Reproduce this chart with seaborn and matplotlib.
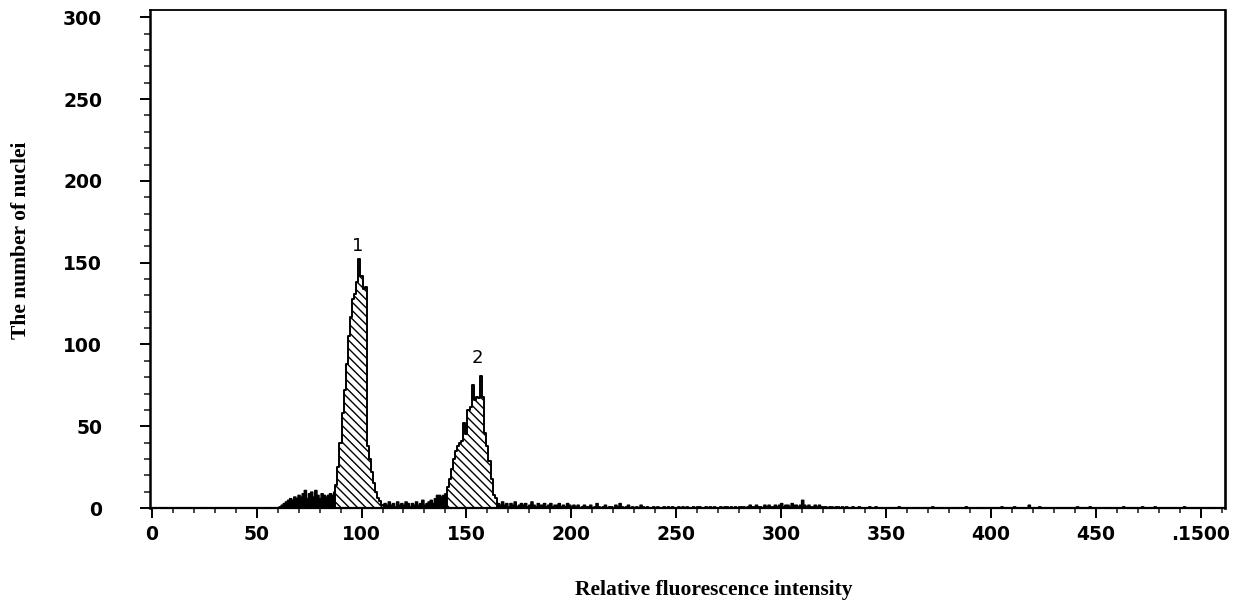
import numpy as np
import pandas as pd
import matplotlib
matplotlib.use("Agg")
import matplotlib.pyplot as plt
import seaborn as sns
from matplotlib.ticker import MultipleLocator

# ---------------- data ----------------
pre_start = 60
pre_counts = [0, 1, 2, 3, 4, 5, 6, 5, 7, 6, 8, 7, 9, 11, 6, 9, 10, 7, 11, 8,
              6, 9, 8, 7, 8, 9, 8, 10]

peak1_start = 88
peak1_counts = [14, 25, 40, 58, 72, 88, 105, 117, 128, 131, 138, 152, 142, 134, 135,
                38, 30, 22, 15, 10, 6, 4, 2]

gap_start = 111
gap_counts = [3, 2, 4, 2, 3, 1, 4, 2, 3, 2, 4, 3, 1, 3, 2, 4, 2, 3, 5, 2,
              3, 4, 5, 3, 6, 8, 8, 7, 8, 9]

peak2_start = 141
peak2_counts = [13, 18, 24, 30, 35, 38, 40, 41, 52, 45, 60, 62, 75, 66, 68, 67, 81, 68,
                46, 38, 29, 18, 8, 6]

tail_start = 165
tail_counts = [3, 2, 4, 2, 3, 1, 3, 2, 4, 1, 2, 3, 2, 3, 1, 2, 4, 2, 1, 3, 2, 2, 3, 1, 2, 3,
               1, 2, 2, 3, 1, 2, 1, 3, 2, 1,
               2, 1, 2, 0, 1, 2, 1, 1, 2, 0, 1, 3, 1, 0, 1, 2, 0, 1, 1, 0, 2, 1, 3, 1,
               0, 1, 2, 0, 1, 0, 1, 0, 2, 1, 0, 1, 0, 0, 1, 0,
               1, 0, 0, 1, 0, 1, 0, 1, 0, 0, 1, 0, 1, 0, 1, 0, 0, 1, 0, 1, 1, 0, 0, 1,
               0, 1, 0, 1, 0, 0, 1, 0, 1, 1, 0, 1, 0, 1, 0, 1,
               1, 1, 0, 1, 2, 1, 1, 2, 1, 1, 0, 2, 1, 2, 1, 1, 2, 1, 2, 3, 1, 2, 2, 1,
               3, 2, 2, 1, 2, 5, 2, 1, 2, 1, 1, 2, 1, 2, 1, 1,
               1, 0, 1, 1, 0, 1, 1, 0, 1, 0, 1, 0, 0, 1, 0, 0, 1, 0, 0, 0, 0, 1, 0, 0,
               1, 0, 0, 0, 0, 0]

far_channels = [356, 372, 388, 405, 411, 418, 423, 441, 447, 463, 472, 478, 492]
far_counts = [1, 1, 1, 1, 1, 2, 1, 1, 1, 1, 1, 1, 1]

x_tick_values = [0, 50, 100, 150, 200, 250, 300, 350, 400, 450, 500]
x_tick_labels = ["0", "50", "100", "150", "200", "250", "300", "350", "400", "450", ".1500"]
y_tick_values = [0, 50, 100, 150, 200, 250, 300]

peak_labels = ["1", "2"]
peak_label_x = [98, 155]
peak_label_y = [155, 86]

x_title = "Relative fluorescence intensity"
y_title = "The number of nuclei"


# ---------------- build frames ----------------
def segment(start, counts):
    return pd.DataFrame({"channel": np.arange(start, start + len(counts)),
                         "count": counts})


noise_df = pd.concat([
    segment(pre_start, pre_counts),
    segment(gap_start, gap_counts),
    segment(tail_start, tail_counts),
    pd.DataFrame({"channel": far_channels, "count": far_counts}),
], ignore_index=True)
peak1_df = segment(peak1_start, peak1_counts)
peak2_df = segment(peak2_start, peak2_counts)

# ---------------- plot ----------------
sns.set_theme(style="ticks")
plt.rcParams["font.family"] = ["DejaVu Sans"]
plt.rcParams["hatch.linewidth"] = 1.0

W, H = 1249, 603
fig = plt.figure(figsize=(W / 100, H / 100), dpi=100)
ax = fig.add_axes([150 / W, 95 / H, 1075 / W, 498 / H])

sns.histplot(data=noise_df, x="channel", weights="count", discrete=True,
             element="step", fill=True, color="black", alpha=1,
             linewidth=1.1, ax=ax)
for pdf in (peak1_df, peak2_df):
    sns.histplot(data=pdf, x="channel", weights="count", discrete=True,
                 element="step", fill=True, facecolor="white", edgecolor="black",
                 hatch="\\\\\\\\", linewidth=1.4, alpha=1, ax=ax)

for lab, lx, ly in zip(peak_labels, peak_label_x, peak_label_y):
    ax.text(lx, ly, lab, ha="center", va="bottom", fontsize=13, color="black")

ax.set_xlim(-0.8, 511.5)
ax.set_ylim(0, 304.5)

ax.set_xticks(x_tick_values)
ax.set_xticklabels(x_tick_labels)
ax.set_yticks(y_tick_values)
ax.xaxis.set_minor_locator(MultipleLocator(10))
ax.yaxis.set_minor_locator(MultipleLocator(10))

ax.tick_params(axis="y", which="major", length=7.5, width=1.4, pad=27,
               labelsize=13.5, direction="out", colors="black")
ax.tick_params(axis="y", which="minor", length=4.5, width=1.2, direction="out")
ax.tick_params(axis="x", which="major", length=7.5, width=1.4, pad=5,
               labelsize=13.5, direction="out", colors="black")
ax.tick_params(axis="x", which="minor", length=3.5, width=1.2, direction="out")
for lbl in ax.get_xticklabels() + ax.get_yticklabels():
    lbl.set_fontweight("bold")

for side, lw in (("left", 1.8), ("bottom", 1.6), ("right", 1.9), ("top", 1.3)):
    ax.spines[side].set_linewidth(lw)
    ax.spines[side].set_color("black")

ax.set_xlabel(x_title, fontfamily="Liberation Serif", fontweight="bold",
              fontsize=15.5, color="black")
ax.set_ylabel(y_title, fontfamily="Liberation Serif", fontweight="bold",
              fontsize=15.5, color="black")
ax.xaxis.set_label_coords(0.524, -0.145)
ax.yaxis.set_label_coords(-0.111, 0.538)

fig.savefig("out.png", dpi=100, facecolor="white")
